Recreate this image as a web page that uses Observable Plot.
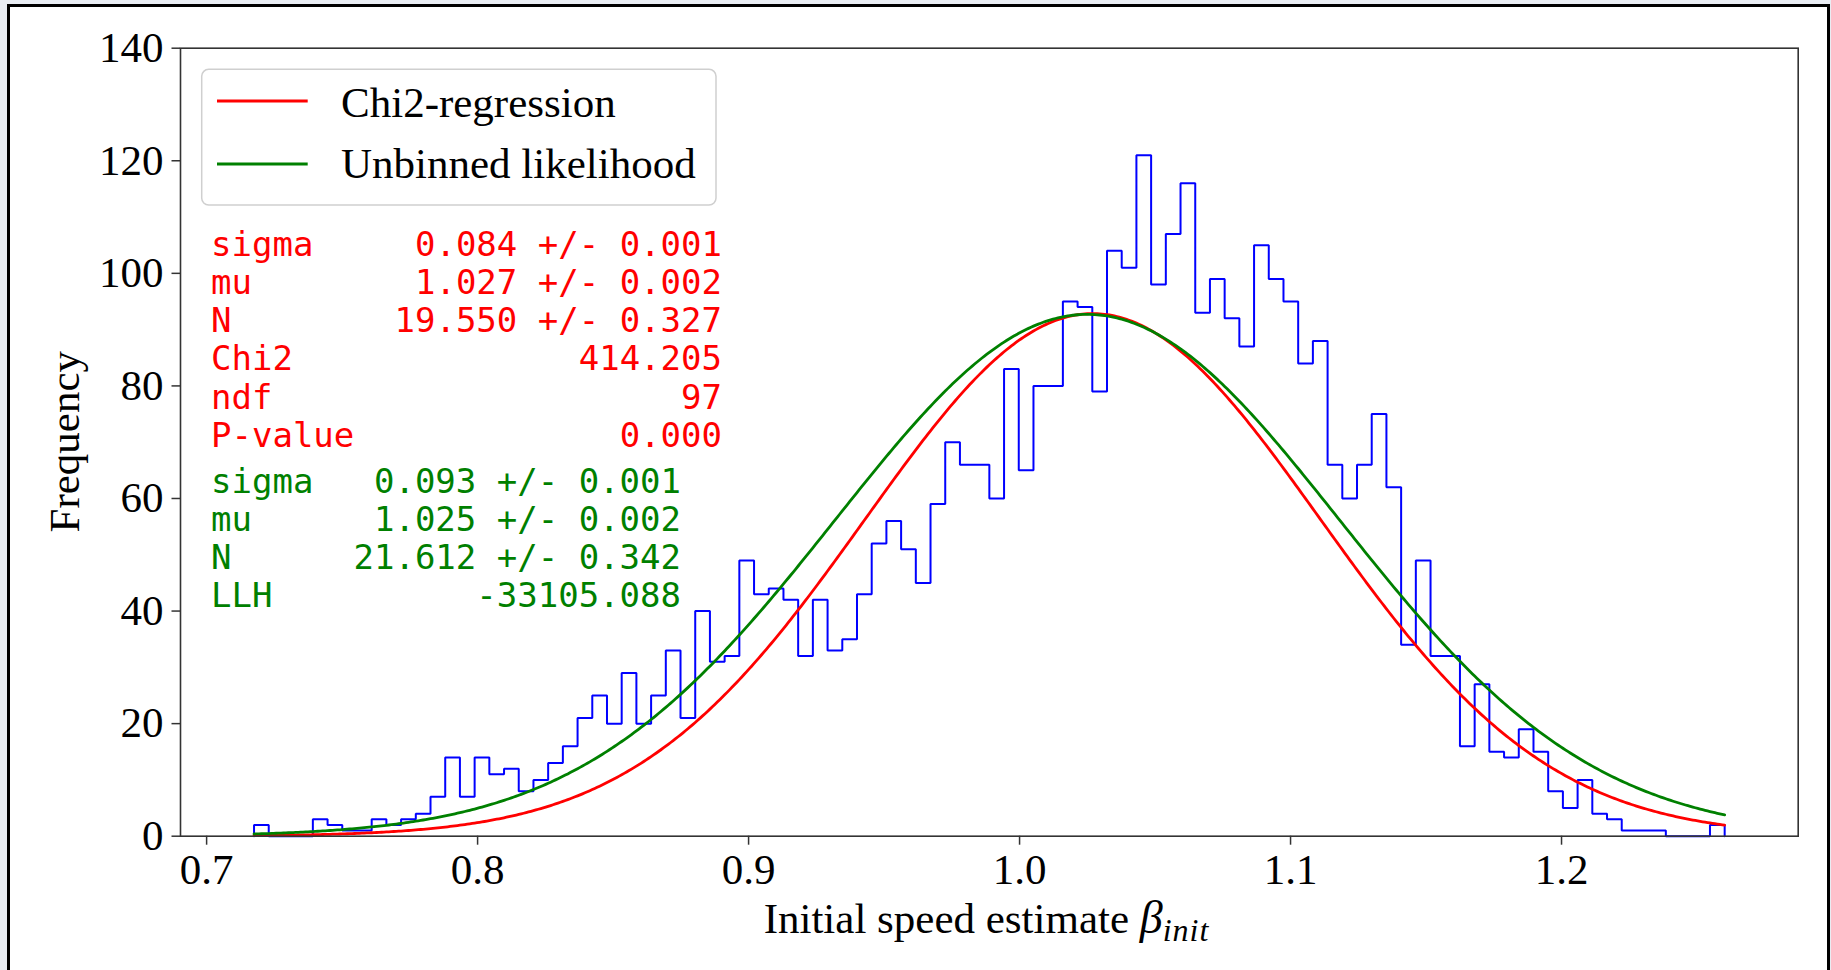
<!DOCTYPE html>
<html><head><meta charset="utf-8">
<script src="https://cdn.jsdelivr.net/npm/d3@7"></script>
<script src="https://cdn.jsdelivr.net/npm/@observablehq/plot@0.6"></script>
<style>
html,body{margin:0;padding:0;overflow:hidden;background:#e9edf3;}
#page{position:relative;width:1831px;height:970px;overflow:hidden;}
#paper{position:absolute;left:7px;top:4px;width:1823px;height:990px;background:#fff;border:3px solid #000;box-sizing:border-box;}
#chart{position:absolute;left:0;top:0;width:1831px;height:970px;}
</style></head><body>
<div id="page"><div id="paper"></div><div id="chart"></div></div>
<script>
// Histogram: 100 bins of the initial speed estimate
const binLo = 0.7175;
const binHi = 1.2602;
const counts = [
  2, 0, 0, 0, 3, 2, 1, 1, 3, 2,
  3, 4, 7, 14, 7, 14, 11, 12, 8, 10,
  13, 16, 21, 25, 20, 29, 20, 25, 33, 21,
  40, 31, 32, 49, 43, 44, 42, 32, 42, 33,
  35, 43, 52, 56, 51, 45, 59, 70, 66, 66,
  60, 83, 65, 80, 80, 95, 94, 79, 104, 101,
  121, 98, 107, 116, 93, 99, 92, 87, 105, 99,
  95, 84, 88, 66, 60, 66, 75, 62, 34, 49,
  32, 32, 16, 27, 15, 14, 19, 15, 8, 5,
  10, 4, 3, 1, 1, 1, 0, 0, 0, 2
];
const xTicks = [0.7, 0.8, 0.9, 1.0, 1.1, 1.2];
const yTicks = [0, 20, 40, 60, 80, 100, 120, 140];

// Gaussian fits (parameters as printed on the chart)
const fitNames = ["Chi2-regression", "Unbinned likelihood"];
const fitColors = ["red", "green"];
const fitMu = [1.027, 1.025];
const fitSigma = [0.084, 0.093];
const fitN = [19.550, 21.612];

// Printed statistics
const chi2Names = ["sigma", "mu", "N", "Chi2", "ndf", "P-value"];
const chi2Values = ["0.084 +/- 0.001", "1.027 +/- 0.002", "19.550 +/- 0.327", "414.205", "97", "0.000"];
const llhNames = ["sigma", "mu", "N", "LLH"];
const llhValues = ["0.093 +/- 0.001", "1.025 +/- 0.002", "21.612 +/- 0.342", "-33105.088"];

// Build step outline
const nb = counts.length, bw = (binHi - binLo) / nb;
const step = [{x: binLo, y: 0}];
counts.forEach((c, i) => {
  step.push({x: binLo + i * bw, y: c});
  step.push({x: binLo + (i + 1) * bw, y: c});
});
step.push({x: binHi, y: 0});

// Fit curves sampled on the histogram range
function fitCurve(k) {
  const pts = [];
  const n = 600;
  for (let j = 0; j <= n; j++) {
    const x = binLo + (binHi - binLo) * j / n;
    const z = (x - fitMu[k]) / fitSigma[k];
    pts.push({x, y: fitN[k] / (fitSigma[k] * Math.sqrt(2 * Math.PI)) * Math.exp(-0.5 * z * z)});
  }
  return pts;
}
const curve0 = fitCurve(0), curve1 = fitCurve(1);

const span = binHi - binLo;
const serif = "'Liberation Serif','Times New Roman',serif";
const mono = "'DejaVu Sans Mono',monospace";

const chart = Plot.plot({
  width: 1831, height: 970,
  marginLeft: 180, marginRight: 33.3, marginTop: 47.7, marginBottom: 134.3,
  style: {background: "transparent", fontFamily: serif, fontSize: "43px", color: "#000", overflow: "visible"},
  x: {domain: [binLo - 0.05 * span, binHi + 0.05 * span], label: null},
  y: {domain: [0, 140], label: null},
  marks: [
    Plot.axisX({ticks: xTicks, tickSize: 9, tickPadding: 8, tickFormat: d => d.toFixed(1), label: null, strokeWidth: 1.5, stroke: "#333", fill: "#000"}),
    Plot.axisY({ticks: yTicks, tickSize: 8.5, tickPadding: 8.5, tickFormat: d => String(d), label: null, strokeWidth: 1.5, stroke: "#333", fill: "#000"}),
    Plot.line(step, {x: "x", y: "y", stroke: "blue", strokeWidth: 2, strokeLinejoin: "miter", curve: "linear"}),
    Plot.line(curve0, {x: "x", y: "y", stroke: fitColors[0], strokeWidth: 2.8}),
    Plot.line(curve1, {x: "x", y: "y", stroke: fitColors[1], strokeWidth: 2.8}),
    Plot.frame({stroke: "#333", strokeWidth: 1.6})
  ]
});
document.getElementById("chart").appendChild(chart);

const svg = d3.select(chart);
// Axis labels
svg.append("text").attr("transform", "translate(79,441.7) rotate(-90)")
  .attr("text-anchor", "middle").attr("font-size", 43).attr("fill", "#000").text("Frequency");
const xl = svg.append("text").attr("x", 986.5).attr("y", 932.7).attr("text-anchor", "middle")
  .attr("font-size", 43).attr("fill", "#000");
xl.append("tspan").text("Initial speed estimate ");
xl.append("tspan").attr("font-style", "italic").attr("font-size", 46).text("β");
xl.append("tspan").attr("font-style", "italic").attr("font-size", 32).attr("dy", 8).attr("letter-spacing", 1).text("init");

// Legend
const lg = svg.append("g").attr("text-anchor", "start");
lg.append("rect").attr("x", 201.7).attr("y", 69.3).attr("width", 514.3).attr("height", 135.7)
  .attr("rx", 7).attr("fill", "#fff").attr("fill-opacity", 0.8).attr("stroke", "#cfcfcf").attr("stroke-width", 1.5);
const legY = [101, 164], legBase = [117.3, 178.3];
fitNames.forEach((name, k) => {
  lg.append("line").attr("x1", 217).attr("x2", 307.7).attr("y1", legY[k]).attr("y2", legY[k])
    .attr("stroke", fitColors[k]).attr("stroke-width", 3);
  lg.append("text").attr("x", 341).attr("y", legBase[k]).attr("text-anchor", "start")
    .attr("font-size", 43).attr("fill", "#000").text(name);
});

// Stats blocks
const st = svg.append("g").attr("font-family", mono).attr("font-size", 34).attr("text-anchor", "start");
chi2Names.forEach((n, i) => {
  const y = 255.5 + 38.3 * i;
  st.append("text").attr("x", 211).attr("y", y).attr("text-anchor", "start").attr("fill", fitColors[0]).text(n);
  st.append("text").attr("x", 722).attr("y", y).attr("text-anchor", "end").attr("fill", fitColors[0]).text(chi2Values[i]);
});
llhNames.forEach((n, i) => {
  const y = 493 + 38 * i;
  st.append("text").attr("x", 211).attr("y", y).attr("text-anchor", "start").attr("fill", fitColors[1]).text(n);
  st.append("text").attr("x", 681).attr("y", y).attr("text-anchor", "end").attr("fill", fitColors[1]).text(llhValues[i]);
});
</script>
</body></html>
